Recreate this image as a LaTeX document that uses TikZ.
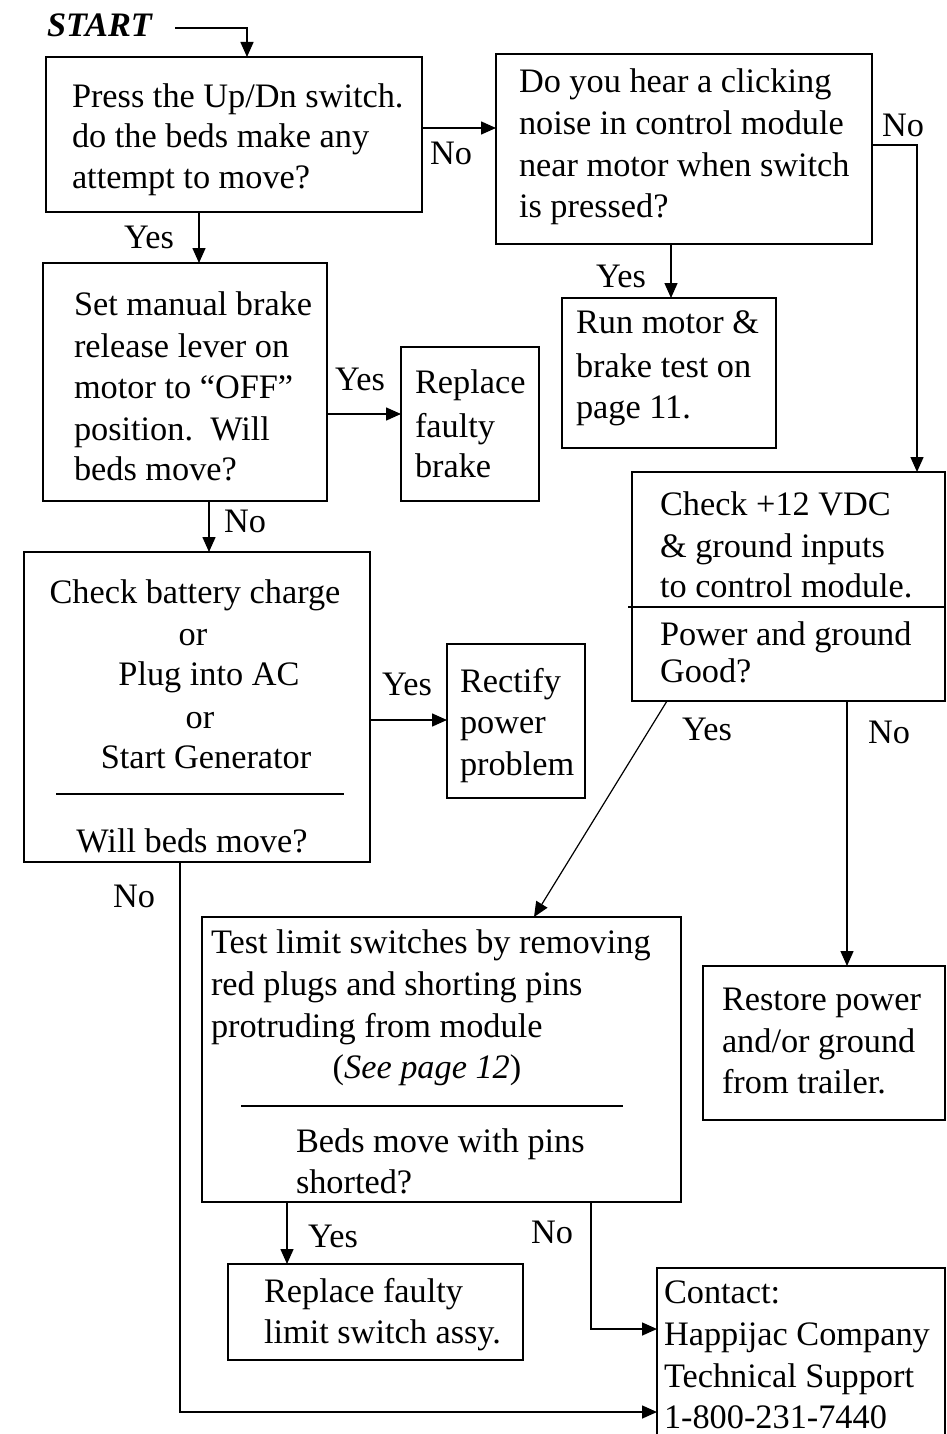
\documentclass[tikz,border=0pt]{standalone}
\usepackage{fontspec}
\setmainfont{Liberation Serif}
\usetikzlibrary{arrows.meta}
\tikzset{
  box/.style={draw, line width=1.8pt, inner sep=0pt, outer sep=0pt},
  txt/.style={anchor=base west, inner sep=0pt, outer sep=0pt, font=\fontsize{34.3}{41}\selectfont},
  ctxt/.style={anchor=base, inner sep=0pt, outer sep=0pt, font=\fontsize{34.3}{41}\selectfont},
  conn/.style={line width=1.5pt},
  arr/.style={line width=1.5pt, -{Triangle[length=15pt,width=13pt]}},
  sepline/.style={line width=1.5pt},
}
\begin{document}
\begin{tikzpicture}[x=1pt,y=-1pt]
\clip (0,0) rectangle (946,1434);
% boxes
\node[box, minimum width=376pt, minimum height=155pt] (b1) at (234,134.5) {};
\node[box, minimum width=376pt, minimum height=190pt] (b2) at (684,149) {};
\node[box, minimum width=214pt, minimum height=150pt] (b3) at (669,373) {};
\node[box, minimum width=284pt, minimum height=238pt] (b4) at (185,382) {};
\node[box, minimum width=138pt, minimum height=154pt] (b5) at (470,424) {};
\node[box, minimum width=346pt, minimum height=310pt] (b6) at (197,707) {};
\node[box, minimum width=138pt, minimum height=154pt] (b7) at (516,721) {};
\node[box, minimum width=313pt, minimum height=229pt] (b8) at (788.5,586.5) {};
\node[box, minimum width=479pt, minimum height=285pt] (b9) at (441.5,1059.5) {};
\node[box, minimum width=242pt, minimum height=154pt] (b10) at (824,1043) {};
\node[box, minimum width=295pt, minimum height=96pt] (b11) at (375.5,1312) {};
\node[box, minimum width=288pt, minimum height=192pt] (b12) at (801,1364) {};

% start
\node[txt] (start) at (47,37) {\textbf{\textit{START}}};

% texts
\node[txt] (t1a) at (72,108) {Press the Up/Dn switch.};
\node[txt] (t1b) at (72,148) {do the beds make any};
\node[txt] (t1c) at (72,189) {attempt to move?};

\node[txt] (t2a) at (519,93) {Do you hear a clicking};
\node[txt] (t2b) at (519,135) {noise in control module};
\node[txt] (t2c) at (519,177) {near motor when switch};
\node[txt] (t2d) at (519,218) {is pressed?};

\node[txt] (t3a) at (576,333) {Run motor \&};
\node[txt] (t3b) at (576,377) {brake test on};
\node[txt] (t3c) at (576,418) {page 11.};

\node[txt] (t4a) at (74,315) {Set manual brake};
\node[txt] (t4b) at (74,357) {release lever on};
\node[txt] (t4c) at (74,398) {motor to “OFF”};
\node[txt] (t4d) at (74,440) {position.\ \ Will};
\node[txt] (t4e) at (74,480) {beds move?};

\node[txt] (t5a) at (415,393) {Replace};
\node[txt] (t5b) at (415,437) {faulty};
\node[txt] (t5c) at (415,477) {brake};

\node[ctxt] (t6a) at (195,603) {Check battery charge};
\node[ctxt] (t6b) at (193,645) {or};
\node[ctxt] (t6c) at (209,685) {Plug into AC};
\node[ctxt] (t6d) at (200,728) {or};
\node[ctxt] (t6e) at (206,768) {Start Generator};
\node[ctxt] (t6f) at (192,852) {Will beds move?};
\coordinate (s6a) at (56,794);
\coordinate (s6b) at (344,794);
\draw[sepline] (s6a) -- (s6b);

\node[txt] (t7a) at (460,692) {Rectify};
\node[txt] (t7b) at (460,733) {power};
\node[txt] (t7c) at (460,775) {problem};

\node[txt] (t8a) at (660,515) {Check +12 VDC};
\node[txt] (t8b) at (660,557) {\& ground inputs};
\node[txt] (t8c) at (660,597) {to control module.};
\node[txt] (t8d) at (660,645) {Power and ground};
\node[txt] (t8e) at (660,682) {Good?};
\coordinate (s8a) at (628,607);
\coordinate (s8b) at (946,607);
\draw[sepline] (s8a) -- (s8b);

\node[txt] (t9a) at (211,953) {Test limit switches by removing};
\node[txt] (t9b) at (211,995) {red plugs and shorting pins};
\node[txt] (t9c) at (211,1037) {protruding from module};
\node[ctxt] (t9d) at (427,1078) {(\textit{See page 12})};
\node[txt] (t9e) at (296,1152) {Beds move with pins};
\node[txt] (t9f) at (296,1193) {shorted?};
\coordinate (s9a) at (241,1106);
\coordinate (s9b) at (623,1106);
\draw[sepline] (s9a) -- (s9b);

\node[txt] (t10a) at (722,1010) {Restore power};
\node[txt] (t10b) at (722,1052) {and/or ground};
\node[txt] (t10c) at (722,1093) {from trailer.};

\node[txt] (t11a) at (264,1302) {Replace faulty};
\node[txt] (t11b) at (264,1343) {limit switch assy.};

\node[txt] (t12a) at (664,1303) {Contact:};
\node[txt] (t12b) at (664,1345) {Happijac Company};
\node[txt] (t12c) at (664,1387) {Technical Support};
\node[txt] (t12d) at (664,1428) {1-800-231-7440};

% labels
\node[txt] (l1) at (430,165) {No};
\node[txt] (l2) at (882,137) {No};
\node[txt] (l3) at (596,287) {Yes};
\node[txt] (l4) at (124,248) {Yes};
\node[txt] (l5) at (335,390) {Yes};
\node[txt] (l6) at (224,532) {No};
\node[txt] (l7) at (382,695) {Yes};
\node[txt] (l8) at (682,740) {Yes};
\node[txt] (l9) at (868,743) {No};
\node[txt] (l10) at (113,907) {No};
\node[txt] (l11) at (308,1247) {Yes};
\node[txt] (l12) at (531,1243) {No};

% helper coordinates
\coordinate (s0) at (175,28);
\coordinate (x247) at (247,28);
\coordinate (y128) at (0,128);
\coordinate (y145) at (0,145);
\coordinate (x917) at (917,145);
\coordinate (x671) at (671,0);
\coordinate (x199) at (199,0);
\coordinate (y414) at (0,414);
\coordinate (x209) at (209,0);
\coordinate (y720) at (0,720);
\coordinate (x667) at (667,0);
\coordinate (x534) at (534,0);
\coordinate (x847) at (847,0);
\coordinate (c180) at (180,1412);
\coordinate (x287) at (287,0);
\coordinate (c591) at (591,1329);

% connectors
\draw[arr] (s0) -- (x247) -- (b1.north -| x247);
\draw[arr] (b1.east |- y128) -- (b2.west |- y128);
\draw[arr] (b2.east |- y145) -- (x917) -- (b8.north -| x917);
\draw[arr] (b2.south -| x671) -- (b3.north -| x671);
\draw[arr] (b1.south -| x199) -- (b4.north -| x199);
\draw[arr] (b4.east |- y414) -- (b5.west |- y414);
\draw[arr] (b4.south -| x209) -- (b6.north -| x209);
\draw[arr] (b6.east |- y720) -- (b7.west |- y720);
\draw[arr, line width=1.2pt] (b8.south -| x667) -- (b9.north -| x534);
\draw[arr] (b8.south -| x847) -- (b10.north -| x847);
\draw[arr] (b6.south -| c180) -- (c180) -- (b12.west |- c180);
\draw[arr] (b9.south -| x287) -- (b11.north -| x287);
\draw[arr] (b9.south -| c591) -- (c591) -- (b12.west |- c591);
\end{tikzpicture}
\end{document}
